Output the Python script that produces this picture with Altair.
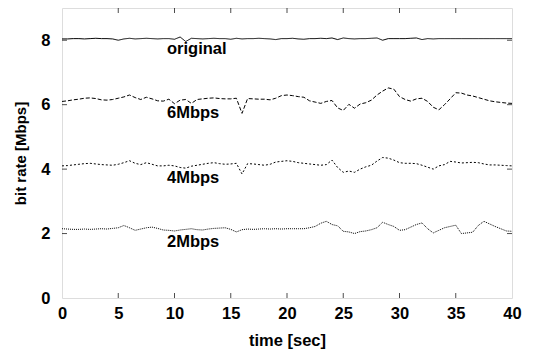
import altair as alt
import pandas as pd

time = [i * 0.5 for i in range(81)]

original = [8.04, 8.04, 8.05, 8.05, 8.04, 8.05, 8.06, 8.05, 8.05, 8.04,
            8.00, 8.04, 8.06, 8.04, 8.05, 8.06, 8.05, 8.04, 8.05, 8.05,
            8.03, 8.10, 7.96, 8.06, 8.05, 8.04, 8.05, 8.06, 8.05, 8.05,
            8.03, 8.06, 8.04, 8.05, 8.05, 8.06, 8.05, 8.04, 8.02, 8.05,
            8.05, 8.06, 8.04, 8.03, 8.05, 8.05, 8.06, 8.05, 8.07, 8.02,
            8.07, 8.05, 8.04, 8.05, 8.05, 8.06, 8.07, 8.00, 8.05, 8.05,
            8.05, 8.05, 8.06, 8.07, 8.02, 8.05, 8.04, 8.05, 8.05, 8.05,
            8.05, 8.05, 8.05, 8.05, 8.05, 8.05, 8.05, 8.05, 8.05, 8.05,
            8.05]

mbps6 = [6.10, 6.12, 6.15, 6.17, 6.20, 6.21, 6.19, 6.15, 6.14, 6.16,
         6.20, 6.24, 6.30, 6.22, 6.16, 6.23, 6.18, 6.12, 6.11, 6.17,
         6.03, 6.14, 6.16, 6.04, 6.16, 6.18, 6.20, 6.21, 6.19, 6.18,
         6.18, 6.20, 5.73, 6.19, 6.18, 6.17, 6.17, 6.15, 6.20, 6.28,
         6.30, 6.28, 6.25, 6.23, 6.12, 6.08, 6.04, 6.10, 6.13, 5.90,
         5.82, 6.01, 5.89, 6.02, 6.06, 6.14, 6.30, 6.42, 6.52, 6.48,
         6.25, 6.16, 6.11, 6.18, 6.20, 6.10, 5.92, 5.84, 6.00, 6.18,
         6.37, 6.36, 6.30, 6.27, 6.22, 6.17, 6.12, 6.09, 6.07, 6.05,
         6.04]

mbps4 = [4.10, 4.11, 4.13, 4.15, 4.17, 4.18, 4.16, 4.14, 4.13, 4.12,
         4.15, 4.20, 4.26, 4.18, 4.14, 4.20, 4.15, 4.10, 4.10, 4.12,
         4.10, 4.05, 4.03, 4.09, 4.12, 4.15, 4.18, 4.20, 4.17, 4.15,
         4.16, 4.18, 3.85, 4.17, 4.16, 4.14, 4.12, 4.15, 4.22, 4.24,
         4.26, 4.24, 4.20, 4.18, 4.16, 4.14, 4.12, 4.14, 4.28, 4.05,
         3.90, 3.94, 3.90, 4.00, 4.07, 4.12, 4.25, 4.36, 4.34, 4.28,
         4.20, 4.18, 4.18, 4.17, 4.12, 4.06, 4.00, 4.10, 4.14, 4.24,
         4.22, 4.19, 4.20, 4.21, 4.20, 4.16, 4.13, 4.13, 4.12, 4.11,
         4.10]

mbps2 = [2.15, 2.14, 2.13, 2.13, 2.14, 2.13, 2.14, 2.15, 2.14, 2.16,
         2.18, 2.25, 2.18, 2.10, 2.14, 2.18, 2.20, 2.16, 2.11, 2.10,
         2.08, 2.11, 2.13, 2.15, 2.12, 2.11, 2.14, 2.16, 2.17, 2.18,
         2.13, 2.05, 2.12, 2.14, 2.13, 2.14, 2.15, 2.14, 2.15, 2.14,
         2.15, 2.15, 2.15, 2.15, 2.18, 2.22, 2.32, 2.38, 2.28, 2.24,
         2.07, 2.05, 2.00, 2.06, 2.08, 2.12, 2.18, 2.35, 2.28, 2.22,
         2.10, 2.12, 2.20, 2.28, 2.33, 2.15, 2.02, 2.10, 2.18, 2.22,
         2.26, 2.00, 2.02, 2.04, 2.25, 2.38, 2.30, 2.22, 2.15, 2.08,
         2.07]

series_names = ["original", "6Mbps", "4Mbps", "2Mbps"]
label_time = [9.33, 9.33, 9.33, 9.33]
label_value = [7.57, 5.60, 3.58, 1.57]

x_ticks = [0, 5, 10, 15, 20, 25, 30, 35, 40]
y_ticks = [0, 2, 4, 6, 8]
x_inner = [5, 10, 15, 20, 25, 30, 35]
y_inner = [2, 4, 6, 8]

rows = []
for name, vals in zip(series_names, [original, mbps6, mbps4, mbps2]):
    for t, v in zip(time, vals):
        rows.append({"time": t, "rate": v, "series": name})
df = pd.DataFrame(rows)
labels_df = pd.DataFrame({"time": label_time, "rate": label_value, "series": series_names})

FONT = "Liberation Sans"
FS = 16.5

x_scale = alt.Scale(domain=[0, 40], nice=False, zero=False)
y_scale = alt.Scale(domain=[0, 9], nice=False)

x_axis = alt.Axis(values=x_ticks, title="time [sec]", grid=False, ticks=False, tickSize=0,
                  domain=False, labelFont=FONT, labelFontWeight="bold",
                  labelFontSize=FS, labelColor="black", labelPadding=7,
                  titleFont=FONT, titleFontWeight="bold", titleFontSize=FS,
                  titleColor="black", titlePadding=11, labelFlush=False)
y_axis = alt.Axis(values=y_ticks, title="bit rate [Mbps]", grid=False, ticks=False, tickSize=0,
                  domain=False, labelFont=FONT, labelFontWeight="bold",
                  labelFontSize=FS, labelColor="black", labelPadding=12,
                  titleFont=FONT, titleFontWeight="bold", titleFontSize=15,
                  titleColor="black", titlePadding=12, labelFlush=False)

lines = alt.Chart(df).mark_line(color="black", strokeWidth=1, clip=True).encode(
    x=alt.X("time:Q", scale=x_scale, axis=x_axis),
    y=alt.Y("rate:Q", scale=y_scale, axis=y_axis),
    strokeDash=alt.StrokeDash("series:N",
                              scale=alt.Scale(domain=series_names,
                                              range=[[1, 0], [4, 2], [2, 2], [1, 1]]),
                              legend=None),
    detail="series:N",
)

texts = alt.Chart(labels_df).mark_text(
    align="left", baseline="alphabetic", font=FONT, fontWeight="bold",
    fontSize=FS, color="black"
).encode(
    x=alt.X("time:Q", scale=x_scale),
    y=alt.Y("rate:Q", scale=y_scale),
    text="series:N",
)

xt_df = pd.DataFrame({"t": x_inner})
yt_df = pd.DataFrame({"v": y_inner})

xt_bottom = alt.Chart(xt_df).mark_tick(color="black", size=5, thickness=1, orient="vertical").encode(
    x=alt.X("t:Q", scale=x_scale), y=alt.value(287.5))
xt_top = alt.Chart(xt_df).mark_tick(color="black", size=5, thickness=1, orient="vertical").encode(
    x=alt.X("t:Q", scale=x_scale), y=alt.value(2.5))
yt_left = alt.Chart(yt_df).mark_tick(color="black", size=5, thickness=1, orient="horizontal").encode(
    y=alt.Y("v:Q", scale=y_scale), x=alt.value(2.5))
yt_right = alt.Chart(yt_df).mark_tick(color="black", size=5, thickness=1, orient="horizontal").encode(
    y=alt.Y("v:Q", scale=y_scale), x=alt.value(447.5))

chart = alt.layer(lines, texts, xt_bottom, xt_top, yt_left, yt_right).properties(
    width=450, height=290,
    autosize=alt.AutoSizeParams(type="none"),
    padding={"left": 54, "top": 0, "right": 14, "bottom": 60},
).configure_view(stroke="black", strokeWidth=1).configure(background="white")

chart.save("out.html", embed_options={"renderer": "svg", "actions": False})
